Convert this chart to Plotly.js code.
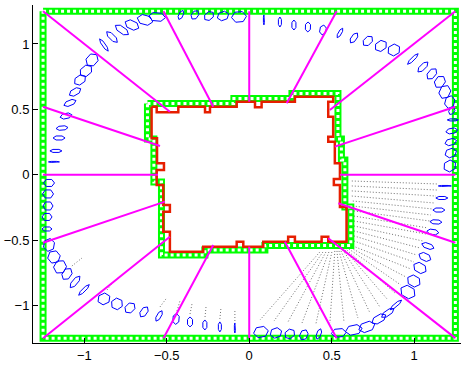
<!DOCTYPE html>
<html>
<head>
<meta charset="utf-8">
<script src="https://cdn.plot.ly/plotly-3.0.1.min.js"></script>
<style>html,body{margin:0;padding:0;background:#fff}</style>
</head>
<body>
<div id="chart" style="width:461px;height:365px"></div>
<script>
// Outer boundary of the domain (closed square)
const outerX = [-1.25, 1.25, 1.25, -1.25, -1.25];
const outerY = [1.25, 1.25, -1.25, -1.25, 1.25];

// Node chain around the inner obstacle
const innerNodeX = [-0.617, -0.093, -0.093, 0.259, 0.259, 0.538, 0.538, 0.559, 0.559, 0.580, 0.580, 0.616, 0.616,
  0.095, 0.095, -0.269, -0.269, -0.532, -0.532, -0.578, -0.578, -0.617, -0.617];
const innerNodeY = [0.545, 0.545, 0.583, 0.583, 0.621, 0.621, 0.273, 0.273, 0.113, 0.113, -0.247, -0.247, -0.541,
  -0.541, -0.576, -0.576, -0.614, -0.614, -0.055, -0.055, 0.273, 0.273, 0.545];

// Stepped outline of the obstacle
const obstacleX = [-0.592, -0.561, -0.561, -0.430, -0.430, -0.268, -0.268, -0.238, -0.238, -0.076, -0.076, 0.035,
  0.035, 0.075, 0.075, 0.277, 0.277, 0.509, 0.509, 0.479, 0.479, 0.509, 0.509, 0.479, 0.479, 0.519, 0.519, 0.550,
  0.550, 0.513, 0.513, 0.550, 0.550, 0.590, 0.590, 0.479, 0.479, 0.439, 0.439, 0.277, 0.277, 0.236, 0.236, 0.085,
  0.085, -0.036, -0.036, -0.076, -0.076, -0.279, -0.279, -0.481, -0.481, -0.521, -0.521, -0.481, -0.481, -0.521,
  -0.521, -0.561, -0.561, -0.517, -0.517, -0.559, -0.559, -0.592, -0.592];
const obstacleY = [0.520, 0.520, 0.478, 0.478, 0.520, 0.520, 0.478, 0.478, 0.520, 0.520, 0.559, 0.559,
  0.516, 0.516, 0.559, 0.559, 0.597, 0.597, 0.559, 0.559, 0.444, 0.444, 0.291, 0.291, 0.253, 0.253, 0.088, 0.088,
  -0.033, -0.033, -0.078, -0.078, -0.247, -0.247, -0.512, -0.512, -0.474, -0.474, -0.512, -0.512, -0.474, -0.474, -0.512, -0.512,
  -0.550, -0.550, -0.512, -0.512, -0.550, -0.550, -0.589, -0.589, -0.436, -0.436, -0.283, -0.283, -0.231, -0.231,
  -0.078, -0.078, 0.036, 0.036, 0.088, 0.088, 0.279, 0.279, 0.520];

// Block-dividing segments from the obstacle to the outer boundary
const linkInnerX = [-0.481, -0.218, 0.000, 0.227, 0.489, 0.519, 0.550, 0.540, 0.479, 0.216, 0.000, -0.218, -0.481, -0.511, -0.553, -0.541];
const linkInnerY = [0.482, 0.520, 0.559, 0.546, 0.495, 0.215, 0.000, -0.218, -0.486, -0.512, -0.550, -0.537, -0.474, -0.206, 0.000, 0.220];
const linkOuterX = [-1.25, -0.52, 0.00, 0.53, 1.25, 1.25, 1.25, 1.25, 1.25, 0.53, 0.00, -0.52, -1.25, -1.25, -1.25, -1.25];
const linkOuterY = [1.25, 1.25, 1.25, 1.25, 1.25, 0.52, 0.00, -0.52, -1.25, -1.25, -1.25, -1.25, -1.25, -0.52, 0.00, 0.52];

// Glyph ring: centre, long axis, short axis (pixels), orientation (deg)
const glyphX = [-1.184, -1.172, -1.153, -1.135, -1.111, -1.087, -1.056, -1.026, -0.990, -0.953, -0.881, -0.832, -0.772,
  -0.711, -0.632, -0.559, -0.414, -0.329, -0.244, -0.159, -0.062, 0.089, 0.186, 0.271, 0.356, 0.447, 0.550, 0.635,
  0.719, 0.798, 0.877, 0.992, 1.053, 1.107, 1.156, 1.186, 1.216, 1.228, 1.234, 1.228, 1.222, 1.222, 1.216,
  1.186, 1.168, 1.150, 1.132, 1.113, 1.083, 1.065, 1.035, 0.998, 0.962, 0.889, 0.840, 0.786, 0.713, 0.634, 0.543,
  0.422, 0.331, 0.246, 0.162, 0.071, -0.087, -0.178, -0.269, -0.359, -0.444, -0.547, -0.638, -0.723, -0.802, -0.881,
  -1.002, -1.056, -1.105, -1.147, -1.184, -1.214, -1.226, -1.226, -1.220, -1.220, -1.214];
const glyphY = [0.098, 0.182, 0.281, 0.357, 0.449, 0.549, 0.633, 0.725, 0.794, 0.878, 0.992, 1.053, 1.107,
  1.145, 1.184, 1.207, 1.222, 1.222, 1.214, 1.214, 1.207, 1.184, 1.168, 1.145, 1.130, 1.107, 1.084, 1.046,
  1.023, 0.985, 0.954, 0.885, 0.824, 0.771, 0.710, 0.633, 0.556, 0.488, 0.419, 0.335, 0.250, 0.166, 0.067,
  -0.086, -0.178, -0.270, -0.361, -0.438, -0.545, -0.629, -0.713, -0.813, -0.897, -0.996, -1.057, -1.103, -1.164, -1.187, -1.210,
  -1.218, -1.225, -1.218, -1.210, -1.203, -1.172, -1.164, -1.149, -1.126, -1.103, -1.080, -1.049, -1.019, -0.988, -0.950,
  -0.881, -0.820, -0.759, -0.705, -0.629, -0.537, -0.415, -0.323, -0.239, -0.147, -0.063];
const glyphLen = [11, 12, 12, 12, 12, 13, 13, 13, 14, 14, 15, 15, 16,
  15, 16, 17, 10, 10, 11, 12, 15, 10, 10, 10, 10, 10, 11, 12,
  12, 13, 13, 15, 14, 13, 13, 14, 13, 8, 11, 12, 12, 12, 13,
  13, 12, 12, 12, 12, 13, 13, 14, 14, 16, 15, 15, 16, 17, 17, 15,
  11, 11, 11, 12, 15, 10, 10, 10, 10, 11, 12, 12, 12, 12, 13,
  15, 15, 13, 14, 13, 13, 10, 10, 10, 11, 11];
const glyphWid = [1, 3, 4, 4, 5, 5, 6, 8, 9, 10, 3, 5, 6,
  8, 9, 8, 4, 6, 7, 8, 10, 1, 3, 4, 5, 6, 3, 5,
  7, 9, 10, 3, 5, 7, 9, 10, 9, 5, 2, 5, 6, 8, 10,
  1, 3, 4, 4, 5, 5, 7, 9, 10, 11, 3, 5, 7, 9, 9, 8,
  4, 7, 8, 9, 10, 1, 3, 4, 5, 6, 4, 6, 8, 10, 10,
  3, 5, 8, 11, 11, 10, 4, 7, 8, 8, 7];
const glyphAng = [0, 0, 0, 5, 12, 22, 30, 35, 40, 48, -55, -45, -35,
  -25, -15, -5, 65, 55, 40, 20, 5, 90, 90, 90, 88, 80, 60, 55,
  45, 35, 30, 45, 45, 50, 55, 65, 75, 60, 0, 10, 15, 20, 30,
  0, 0, 0, -3, -8, -20, -25, -30, -30, -30, 40, 35, 30, 20, 12, 5,
  70, 65, 40, 20, 10, 90, 90, 90, 90, 85, 60, 55, 45, 35, 25,
  45, 50, 55, 60, 70, 80, 0, 0, 0, 0, 0];

// Dotted rays in the lower part of the domain
const rayX0 = [0.622, 0.622, 0.622, 0.622, 0.628, 0.628, 0.635, 0.635, 0.635, 0.635, 0.635, 0.635, 0.635, 0.628,
  0.616, 0.604, 0.592, 0.580, 0.568, 0.556, 0.544, 0.532, 0.519, 0.501, 0.483, 0.465, 0.447, 0.428,
  -0.087, -0.178, -0.268, -0.359, -0.438, -0.541, -0.862, -1.075];
const rayY0 = [-0.048, -0.086, -0.124, -0.163, -0.201, -0.239, -0.277, -0.316, -0.354, -0.392, -0.430, -0.468, -0.507, -0.545,
  -0.560, -0.568, -0.576, -0.576, -0.576, -0.583, -0.583, -0.583, -0.583, -0.591, -0.591, -0.591, -0.591, -0.591,
  -1.119, -1.103, -1.088, -1.065, -1.042, -1.011, -0.881, -0.698];
const rayX1 = [1.144, 1.137, 1.132, 1.119, 1.113, 1.101, 1.095, 1.083, 1.071, 1.053, 1.035, 1.016, 0.998, 0.980,
  0.950, 0.919, 0.883, 0.841, 0.792, 0.732, 0.659, 0.574, 0.489, 0.404, 0.320, 0.235, 0.150, 0.065,
  -0.087, -0.172, -0.262, -0.347, -0.420, -0.505, -0.820, -1.014];
const rayY1 = [-0.071, -0.117, -0.163, -0.216, -0.262, -0.308, -0.354, -0.407, -0.453, -0.507, -0.560, -0.614, -0.667, -0.721,
  -0.782, -0.843, -0.904, -0.958, -1.011, -1.057, -1.096, -1.119, -1.134, -1.142, -1.134, -1.126, -1.119, -1.111,
  -1.042, -1.027, -1.011, -0.988, -0.965, -0.950, -0.813, -0.637];

const X_RANGE = [-1.311, 1.284];
const Y_RANGE = [-1.287, 1.298];
const W = 461, H = 365;
const M = {l: 33, r: 0, t: 5, b: 22};
const pxPerX = (W - M.l - M.r) / (X_RANGE[1] - X_RANGE[0]);
const pxPerY = (H - M.t - M.b) / (Y_RANGE[1] - Y_RANGE[0]);

// Glyph outlines as small hexagons, sized in screen pixels
const gx = [], gy = [];
for (let i = 0; i < glyphX.length; i++) {
  const a = glyphLen[i] / 2, b = glyphWid[i] / 2;
  const t = glyphAng[i] * Math.PI / 180, c = Math.cos(t), s = Math.sin(t);
  const local = [[a, 0], [a / 2, b], [-a / 2, b], [-a, 0], [-a / 2, -b], [a / 2, -b], [a, 0]];
  for (const [u, v] of local) {
    gx.push(glyphX[i] + (u * c - v * s) / pxPerX);
    gy.push(glyphY[i] + (u * s + v * c) / pxPerY);
  }
  gx.push(null); gy.push(null);
}

function segments(x0, y0, x1, y1) {
  const x = [], y = [];
  for (let i = 0; i < x0.length; i++) {
    x.push(x0[i], x1[i], null);
    y.push(y0[i], y1[i], null);
  }
  return {x, y};
}
const rays = segments(rayX0, rayY0, rayX1, rayY1);
const links = segments(linkInnerX, linkInnerY, linkOuterX, linkOuterY);

const GREEN = '#00ff00';
const traces = [
  {x: rays.x, y: rays.y, mode: 'lines', line: {color: '#707070', width: 1, dash: '1px,2px'}},
  {x: outerX, y: outerY, mode: 'lines', line: {color: GREEN, width: 7}},
  {x: outerX, y: outerY, mode: 'lines', line: {color: '#ffffff', width: 3, dash: '3px,3px'}},
  {x: innerNodeX, y: innerNodeY, mode: 'lines', line: {color: GREEN, width: 7}},
  {x: innerNodeX, y: innerNodeY, mode: 'lines', line: {color: '#ffffff', width: 3, dash: '3px,3px'}},
  {x: obstacleX, y: obstacleY, mode: 'lines', line: {color: 'rgb(230,30,0)', width: 2.5}},
  {x: gx, y: gy, mode: 'lines', line: {color: '#0000ff', width: 1}},
  {x: links.x, y: links.y, mode: 'lines', line: {color: '#ff00ff', width: 2}}
];

const axisBase = {
  showgrid: false, zeroline: false, showline: true, linecolor: '#000', linewidth: 1,
  ticks: 'inside', ticklen: 5, tickcolor: '#000', tickwidth: 1,
  tickvals: [-1, -0.5, 0, 0.5, 1],
  tickfont: {family: 'Liberation Sans, Arial, sans-serif', size: 13, color: '#000'},
  fixedrange: true
};

const layout = {
  width: W, height: H,
  margin: {l: M.l, r: M.r, t: M.t, b: M.b, pad: 0},
  paper_bgcolor: '#fff', plot_bgcolor: '#fff',
  showlegend: false,
  xaxis: Object.assign({}, axisBase, {range: X_RANGE}),
  yaxis: Object.assign({}, axisBase, {range: Y_RANGE})
};

Plotly.newPlot('chart', traces, layout, {staticPlot: true, displayModeBar: false});
</script>
</body>
</html>
